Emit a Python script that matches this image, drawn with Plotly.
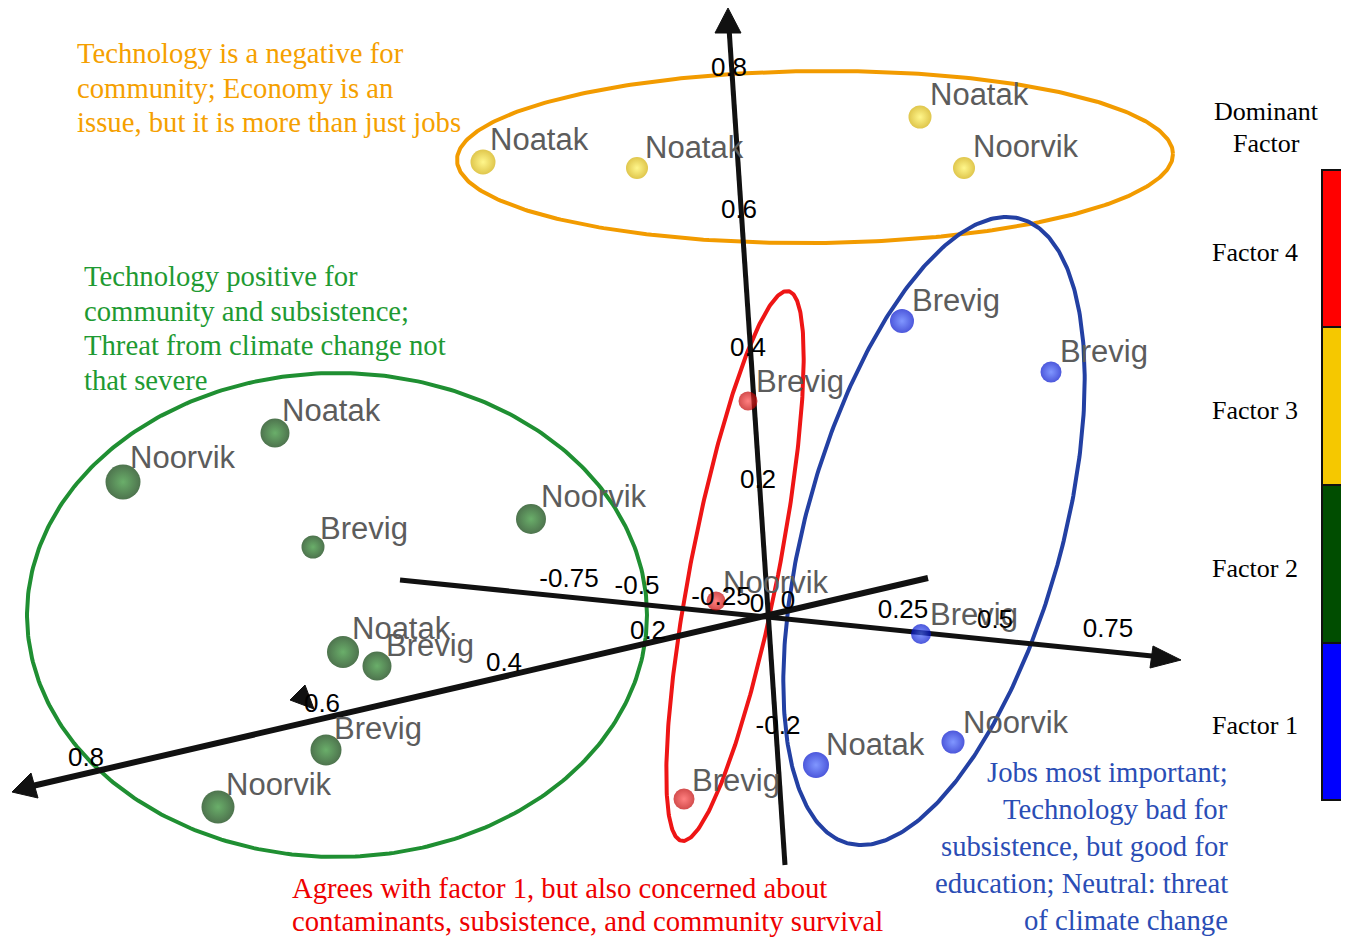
import numpy as np
import plotly.graph_objects as go

W, H = 1349, 937
OFF = 8  # page body margin of the html page

# ---------------- data (screen positions) ----------------
f3_x = [483, 637, 920, 964]
f3_y = [162, 168, 117, 168]
f3_size = [25, 22, 23, 22]
f3_names = ["Noatak", "Noatak", "Noatak", "Noorvik"]
f3_lx = [490, 645, 930, 973]
f3_ly = [142, 150, 97, 149]

f2_x = [275, 123, 313, 531, 343, 377, 326, 218]
f2_y = [433, 482, 547, 519, 652, 666, 750, 807]
f2_size = [29, 35, 23, 30, 32, 29, 31, 33]
f2_names = ["Noatak", "Noorvik", "Brevig", "Noorvik", "Noatak", "Brevig", "Brevig", "Noorvik"]
f2_lx = [282, 130, 320, 541, 352, 386, 334, 226]
f2_ly = [413, 460, 531, 499, 631, 648, 731, 787]

f4_x = [748, 716, 684]
f4_y = [401, 601, 799]
f4_size = [19, 19, 21]
f4_names = ["Brevig", "Noorvik", "Brevig"]
f4_lx = [756, 723, 692]
f4_ly = [384, 585, 783]

f1_x = [902, 1051, 921, 816, 953]
f1_y = [321, 372, 634, 765, 742]
f1_size = [24, 21, 20, 26, 23]
f1_names = ["Brevig", "Brevig", "Brevig", "Noatak", "Noorvik"]
f1_lx = [912, 1060, 930, 826, 963]
f1_ly = [303, 354, 617, 747, 725]

# axis lines (start, end) and tick labels
axis_x0 = [785, 400, 928]
axis_y0 = [865, 580, 578]
axis_x1 = [729, 1162, 28]
axis_y1 = [28, 657, 787]
axis_w = [5, 5, 6]

tick_text = ["0.8", "0.6", "0.4", "0.2", "0", "-0.2",
             "-0.75", "-0.5", "-0.25", "0", "0.25", "0.5", "0.75",
             "0.2", "0.4", "0.6", "0.8"]
tick_x = [729, 739, 748, 758, 757, 778,
          569, 637, 721, 788, 903, 995, 1108,
          648, 504, 322, 86]
tick_y = [69, 211, 349, 481, 605, 727,
          580, 587, 598, 602, 611, 621, 630,
          632, 664, 705, 759]

# arrowheads: tip, base corner A, base corner B
arrow_tip = [(728, 8), (1181, 660), (12, 792), (290, 700)]
arrow_a = [(715, 33), (1153, 646), (31, 773), (305, 685)]
arrow_b = [(741, 33), (1150, 668), (38, 798), (314, 709)]

# cluster ellipses: centre, semi axes, rotation (deg), colour
ell_cx = [815, 337, 735, 934]
ell_cy = [157, 615, 566, 531]
ell_a = [358, 310, 44, 128]
ell_b = [86, 242, 280, 324]
ell_rot = [-0.5, 0, 11, 15.5]
ell_col = ["#f29b00", "#1f8f32", "#ee1515", "#2340a3"]

# colour bar
bar_names = ["Factor 4", "Factor 3", "Factor 2", "Factor 1"]
bar_cols = ["#ff0000", "#f5c800", "#004d00", "#0000ff"]
bar_edges = [170, 327, 485, 643, 800]

# cluster descriptions (one entry per line)
orange_lines = ["Technology is a negative for", "community; Economy is an",
                "issue, but it is more than just jobs"]
orange_ly = [53, 88, 122]
green_lines = ["Technology positive for", "community and subsistence;",
               "Threat from climate change not", "that severe"]
green_ly = [276, 311, 345, 380]
red_lines = ["Agrees with factor 1, but also concerned about",
             "contaminants, subsistence, and community survival"]
red_ly = [888, 921]
blue_lines = ["Jobs most important;", "Technology bad for", "subsistence, but good for",
              "education; Neutral: threat", "of climate change"]
blue_ly = [772, 809, 846, 883, 920]

fig = go.Figure()

# ellipses
t = np.linspace(0, 2 * np.pi, 400)
for cx, cy, a, b, r, c in zip(ell_cx, ell_cy, ell_a, ell_b, ell_rot, ell_col):
    th = np.deg2rad(r)
    ex = a * np.cos(t)
    ey = b * np.sin(t)
    xs = cx + ex * np.cos(th) - ey * np.sin(th)
    ys = cy + ex * np.sin(th) + ey * np.cos(th)
    fig.add_trace(go.Scatter(x=xs, y=ys, mode="lines", line=dict(color=c, width=4),
                             hoverinfo="skip"))

# axes
for x0, y0, x1, y1, w in zip(axis_x0, axis_y0, axis_x1, axis_y1, axis_w):
    fig.add_trace(go.Scatter(x=[x0, x1], y=[y0, y1], mode="lines",
                             line=dict(color="#111111", width=w), hoverinfo="skip"))
for tp, pa, pb in zip(arrow_tip, arrow_a, arrow_b):
    fig.add_trace(go.Scatter(x=[tp[0], pa[0], pb[0], tp[0]], y=[tp[1], pa[1], pb[1], tp[1]],
                             mode="lines", fill="toself", fillcolor="#111111",
                             line=dict(color="#111111", width=1), hoverinfo="skip"))

# points: (edge colour, centre highlight colour)
groups = [
    (f3_x, f3_y, f3_size, "#d2ae00", "#fff35a", f3_names, f3_lx, f3_ly),
    (f2_x, f2_y, f2_size, "#023802", "#2a8c2a", f2_names, f2_lx, f2_ly),
    (f4_x, f4_y, f4_size, "#c00000", "#ff4a4a", f4_names, f4_lx, f4_ly),
    (f1_x, f1_y, f1_size, "#0010cc", "#4a6aff", f1_names, f1_lx, f1_ly),
]
for gx, gy, gs, c_edge, c_mid, names, lx, ly in groups:
    fig.add_trace(go.Scatter(x=gx, y=gy, mode="markers",
                             marker=dict(size=gs, color=c_edge,
                                         gradient=dict(type="radial", color=c_mid),
                                         line=dict(width=0)),
                             hoverinfo="skip"))
    fig.add_trace(go.Scatter(x=lx, y=ly, mode="text", text=names,
                             textposition="middle right",
                             textfont=dict(family="Liberation Sans, Arial", size=31,
                                           color="#5c5c5c"),
                             hoverinfo="skip"))

# tick labels
fig.add_trace(go.Scatter(x=tick_x, y=tick_y, mode="text", text=tick_text,
                         textposition="middle center",
                         textfont=dict(family="Liberation Sans, Arial", size=26, color="#000000"),
                         hoverinfo="skip"))

shapes = []
for i, c in enumerate(bar_cols):
    shapes.append(dict(type="rect", xref="x", yref="y", x0=1322, x1=1345,
                       y0=bar_edges[i], y1=bar_edges[i + 1], fillcolor=c,
                       line=dict(color="#111111", width=2)))

serif = "Liberation Serif, Times New Roman"
ann = []
bar_mid = [(bar_edges[i] + bar_edges[i + 1]) / 2 + 4 for i in range(4)]
for name, ym in zip(bar_names, bar_mid):
    ann.append(dict(x=1255, y=ym, xref="x", yref="y", text=name, showarrow=False,
                    font=dict(family=serif, size=26, color="#000000")))
for txt, ym in zip(["Dominant", "Factor"], [111, 143]):
    ann.append(dict(x=1266, y=ym, xref="x", yref="y", text=txt, showarrow=False,
                    font=dict(family=serif, size=26, color="#000000")))


def add_lines(lines, ys, x, anchor, color):
    for txt, y in zip(lines, ys):
        ann.append(dict(x=x, y=y, xref="x", yref="y", xanchor=anchor, yanchor="middle",
                        text=txt, showarrow=False, borderpad=0,
                        font=dict(family=serif, size=28.7, color=color)))


add_lines(orange_lines, orange_ly, 76, "left", "#f5a000")
add_lines(green_lines, green_ly, 83, "left", "#1e9a32")
add_lines(red_lines, red_ly, 291, "left", "#ee0000")
add_lines(blue_lines, blue_ly, 1229, "right", "#2a4db5")

fig.update_layout(
    width=W - OFF, height=H - OFF,
    margin=dict(l=0, r=0, t=0, b=0),
    paper_bgcolor="white", plot_bgcolor="white",
    showlegend=False,
    xaxis=dict(range=[OFF, W], visible=False, fixedrange=True),
    yaxis=dict(range=[H, OFF], visible=False, fixedrange=True),
    shapes=shapes, annotations=ann,
)

fig.write_html("out.html")
